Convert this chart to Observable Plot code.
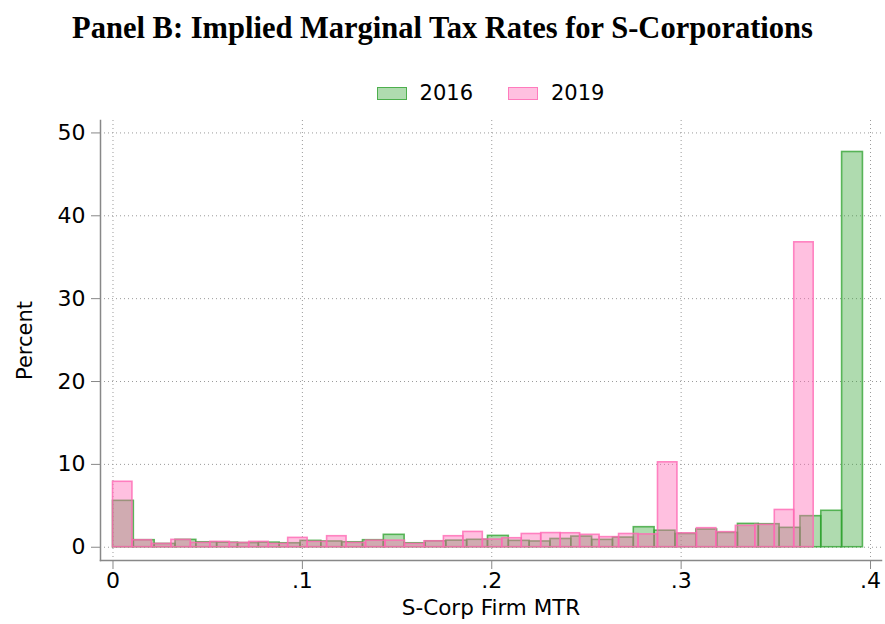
<!DOCTYPE html>
<html>
<head>
<meta charset="utf-8">
<script src="https://cdn.jsdelivr.net/npm/d3@7"></script>
<script src="https://cdn.jsdelivr.net/npm/@observablehq/plot@0.6"></script>
<style>
  html, body { margin: 0; padding: 0; background: #fff; }
  body { width: 885px; height: 624px; overflow: hidden; font-family: "DejaVu Sans", sans-serif; }
  #header { position: relative; width: 885px; height: 110px; }
  #title { position: absolute; left: 0; top: 13px; width: 885px; text-align: center;
           font-family: "Liberation Serif", "DejaVu Serif", serif; font-weight: bold;
           font-size: 30.5px; line-height: 30px; color: #000; white-space: nowrap; }
  #legend { position: absolute; left: 100px; width: 781px; top: 82.5px; height: 21px;
            display: flex; justify-content: center; align-items: center; }
  .item { display: flex; align-items: center; }
  .item + .item { margin-left: 35px; }
  .sw { width: 28px; height: 11px; margin-right: 13px; }
  .lab { font-size: 21px; line-height: 21px; color: #000; }
  #chart svg { display: block; }
</style>
</head>
<body>
<div id="header">
  <div id="title"></div>
  <div id="legend"></div>
</div>
<div id="chart"></div>
<script>
// ---- Data ----
const titleText = "Panel B: Implied Marginal Tax Rates for S-Corporations";
const xLabel = "S-Corp Firm MTR";
const yLabel = "Percent";
const seriesNames = ["2016", "2019"];

// Histogram bins: 36 bins each, starting at 0
const binCount = 36;
const maxMTR2016 = 0.396;   // upper edge of 2016 histogram
const maxMTR2019 = 0.37;    // upper edge of 2019 histogram

const pct2016 = [5.6, 0.85, 0.4, 0.89, 0.6, 0.55, 0.5, 0.56, 0.48, 0.77,
                 0.7, 0.6, 0.85, 1.5, 0.48, 0.72, 0.8, 0.9, 1.37, 0.77,
                 0.7, 1.0, 1.29, 0.89, 1.17, 2.42, 2.0, 1.6, 2.14, 1.73,
                 2.82, 2.78, 2.34, 3.75, 4.4, 47.7];
const pct2019 = [7.9, 0.85, 0.4, 0.89, 0.52, 0.65, 0.52, 0.65, 0.4, 1.13,
                 0.65, 1.33, 0.52, 0.8, 0.8, 0.4, 0.72, 1.33, 1.85, 0.93,
                 1.09, 1.6, 1.71, 1.69, 1.5, 1.22, 1.6, 1.55, 10.25, 1.68,
                 2.3, 1.82, 2.58, 2.7, 4.5, 36.8];

const xTicks = [0, 0.1, 0.2, 0.3, 0.4];
const xTickLabels = ["0", ".1", ".2", ".3", ".4"];
const yTicks = [0, 10, 20, 30, 40, 50];

// ---- Styles ----
const green = "rgb(44,160,44)";
const pink = "rgb(255,105,180)";

function bins(values, maxVal, series) {
  const w = maxVal / binCount;
  return values.map((v, i) => ({series, x1: i * w, x2: (i + 1) * w, pct: v}));
}
const data2016 = bins(pct2016, maxMTR2016, seriesNames[0]);
const data2019 = bins(pct2019, maxMTR2019, seriesNames[1]);

document.getElementById("title").textContent = titleText;

// Legend
const legend = document.getElementById("legend");
[[seriesNames[0], green, 0.38, 0.75], [seriesNames[1], pink, 0.42, 0.8]].forEach(([name, col, fo, so]) => {
  const item = document.createElement("div");
  item.className = "item";
  const sw = document.createElement("div");
  sw.className = "sw";
  const c = d3.color(col);
  sw.style.background = `rgba(${c.r},${c.g},${c.b},${fo})`;
  sw.style.border = `1.5px solid rgba(${c.r},${c.g},${c.b},${so})`;
  const lab = document.createElement("span");
  lab.className = "lab";
  lab.textContent = name;
  item.appendChild(sw);
  item.appendChild(lab);
  legend.appendChild(item);
});

const grid = {stroke: "#9a9a9a", strokeOpacity: 1, strokeWidth: 1, strokeDasharray: "1,3"};

const chart = Plot.plot({
  width: 885,
  height: 514,
  marginLeft: 100,
  marginRight: 4,
  marginTop: 10,
  marginBottom: 64,
  x: {domain: [-0.0066, 0.4058]},
  y: {domain: [-1.6, 51.5]},
  style: {fontFamily: "DejaVu Sans", fontSize: "20px", color: "#000", background: "#fff"},
  marks: [
    Plot.gridX(xTicks, grid),
    Plot.gridY(yTicks, grid),
    Plot.rect(data2016, {x1: "x1", x2: "x2", y1: 0, y2: "pct",
      fill: green, fillOpacity: 0.38, stroke: green, strokeOpacity: 0.75, strokeWidth: 1.6}),
    Plot.rect(data2019, {x1: "x1", x2: "x2", y1: 0, y2: "pct",
      fill: pink, fillOpacity: 0.42, stroke: pink, strokeOpacity: 0.8, strokeWidth: 1.6}),
    Plot.frame({anchor: "left", stroke: "#888", strokeWidth: 1.5}),
    Plot.frame({anchor: "bottom", stroke: "#888", strokeWidth: 1.5}),
    Plot.axisY(yTicks, {tickSize: 9, tickPadding: 6, stroke: "#888", fill: "#000", fontSize: 22, label: null}),
    Plot.axisX(xTicks, {tickSize: 9, tickPadding: 3, stroke: "#888", fill: "#000", fontSize: 22, label: null,
      tickFormat: d => xTickLabels[xTicks.indexOf(d)]}),
    Plot.text([yLabel], {frameAnchor: "left", dx: -75, rotate: -90, textAnchor: "middle", lineAnchor: "middle",
      fontSize: 21, fill: "#000"}),
    Plot.text([xLabel], {frameAnchor: "bottom", dy: 48, textAnchor: "middle", lineAnchor: "middle",
      fontSize: 21.5, fill: "#000"})
  ]
});
document.getElementById("chart").appendChild(chart);
</script>
</body>
</html>
